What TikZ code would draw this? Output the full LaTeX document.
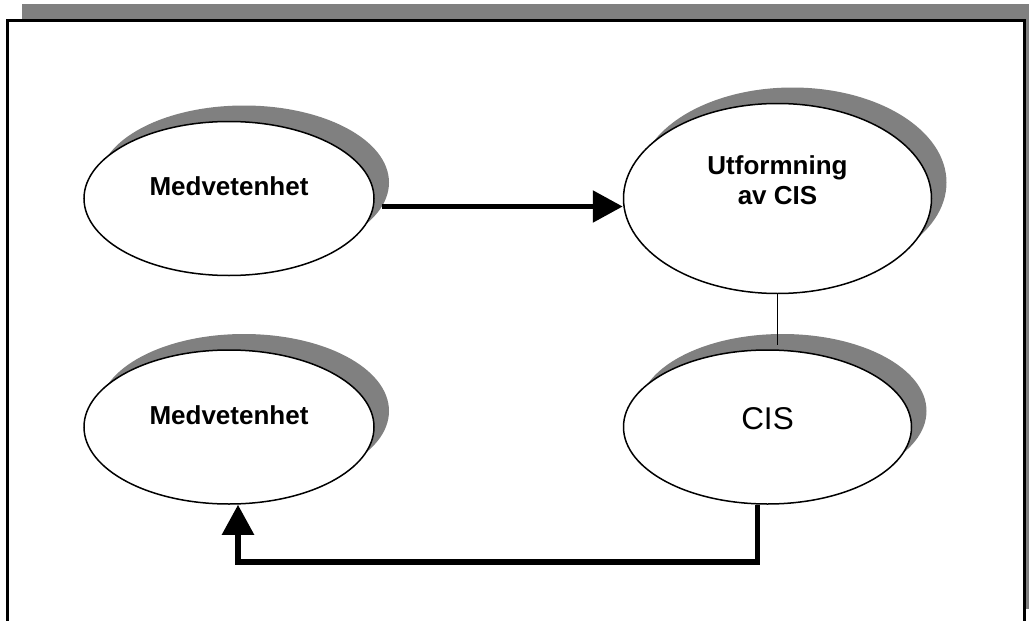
\documentclass[tikz,border=0pt]{standalone}
\usepackage{fontspec}
\setmainfont{Liberation Sans}
\usetikzlibrary{positioning,shadows,arrows.meta,shapes.geometric}
\definecolor{shadowgray}{RGB}{128,128,128}
\tikzset{
    oval/.style ={
        shape=ellipse,
        draw=black,
        line width=1.5pt,
        fill=white,
        inner sep=0pt,
        minimum width=290pt,
        minimum height=154pt,
        drop shadow={shadow xshift=15pt,shadow yshift=16pt,fill=shadowgray,opacity=1},
        font=\fontsize{26}{30}\selectfont\bfseries
    },
    flow/.style ={
        line width=5.5pt,
        -{Triangle[length=30pt,width=31pt]}
    }
}

\begin{document}
\begin{tikzpicture}[x=1pt,y=-1pt]
    \useasboundingbox (0,0) rectangle (1029,621);
    % frame with its shadow
    \fill[shadowgray] (22,4) rectangle (1045,609);
    \draw[line width=3pt,fill=white] (7,20.5) rectangle (1024,627);
    \node[oval,text depth=24pt] (med1) at (229,198.5) {Medvetenhet};
    \node[oval,text depth=36pt,align=center,minimum width=308pt,minimum height=190pt,right=248pt of med1] (utf) {Utformning\\av CIS};
    \node[oval,text depth=24pt,below=73pt of med1] (med2) {Medvetenhet};
    \node[oval,text depth=18pt,font=\fontsize{31.5}{36}\selectfont,minimum width=288pt,below=55pt of utf,xshift=-10pt] (cis) {CIS};
    \draw[flow] ([xshift=7pt,yshift=-8pt]med1.east) -- ([yshift=-8pt]utf.west);
    \draw[line width=1.5pt] (utf.south) -- ([xshift=10pt,yshift=4pt]cis.north);
    \draw[flow] ([xshift=-10pt]cis.south) -- ++(0,57) -| ([xshift=9pt]med2.south);
\end{tikzpicture}
\end{document}
